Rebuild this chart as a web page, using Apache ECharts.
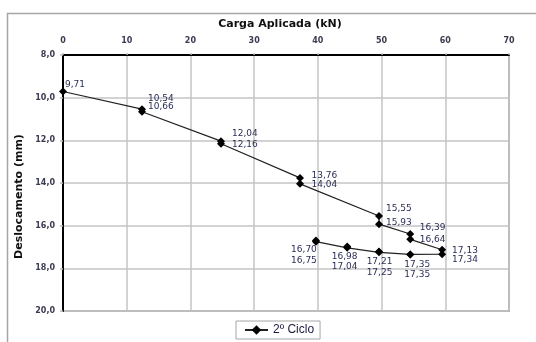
<!DOCTYPE html>
<html>
<head>
<meta charset="utf-8">
<script src="https://cdn.jsdelivr.net/npm/echarts@6/dist/echarts.min.js"></script>
<style>html,body{margin:0;padding:0;background:#fff;}#c{width:536px;height:342px;}</style>
</head>
<body>
<div id="c"></div>
<script>
// Data
var loads = [0, 12.4, 12.4, 24.8, 24.8, 37.2, 37.2, 49.6, 49.6, 54.5, 54.5, 59.5, 59.5, 54.5, 54.5, 49.6, 49.6, 44.6, 44.6, 39.7, 39.7];
var displacements = [9.71, 10.54, 10.66, 12.04, 12.16, 13.76, 14.04, 15.55, 15.93, 16.39, 16.64, 17.13, 17.34, 17.35, 17.35, 17.25, 17.21, 17.04, 16.98, 16.75, 16.70];
var xTicks = [0, 10, 20, 30, 40, 50, 60, 70];
var yTicks = [8, 10, 12, 14, 16, 18, 20];
var seriesName = '2º Ciclo';
var xTitle = 'Carga Aplicada (kN)';
var yTitle = 'Deslocamento (mm)';

// Label placement (styling, separate from data): [align, dx, dy]
var labelPlacement = [
  ['left', 2, -7], ['left', 6, -10.5], ['left', 6, -5], ['left', 11, -7.5], ['left', 11, 0.5],
  ['left', 11.5, -2], ['left', 11.5, 1], ['left', 7, -7], ['left', 7, -2], ['left', 9.5, -6],
  ['left', 9.5, 0], ['left', 10, 0.5], ['left', 10, 5],
  ['center', 7, 10], ['center', 7, 20.5], ['center', 0.5, 20.5], ['center', 0.5, 10.5],
  ['center', -2.5, 18.5], ['center', -2.5, 10], ['center', -12, 18.5], ['center', -12, 9.5]
];

function fmt(v, d) { return v.toFixed(d).replace('.', ','); }

var data = loads.map(function (x, i) {
  var p = labelPlacement[i];
  return {
    value: [x, displacements[i]],
    label: { align: p[0], offset: [p[1], p[2]] }
  };
});

var chart = echarts.init(document.getElementById('c'), null, { renderer: 'canvas' });
chart.setOption({
  backgroundColor: '#ffffff',
  animation: false,
  graphic: [{
    type: 'rect', silent: true, z: -10,
    shape: { x: 7.5, y: 13.5, width: 700, height: 500 },
    style: { fill: 'none', stroke: '#a6a6a6', lineWidth: 1.5 }
  }],
  grid: {
    left: 63, top: 55, right: 27, bottom: 31,
    show: true, borderColor: '#a8a8a8', borderWidth: 2, backgroundColor: 'transparent'
  },
  legend: {
    left: 236, top: 321,
    padding: [3, 6, 3, 8],
    borderColor: '#a6a6a6', borderWidth: 1,
    itemWidth: 23, itemHeight: 12,
    textStyle: { fontFamily: 'Liberation Sans', fontSize: 12, color: '#1a1a40' },
    data: [seriesName]
  },
  xAxis: {
    type: 'value', position: 'top',
    min: xTicks[0], max: xTicks[xTicks.length - 1], interval: 10,
    name: xTitle, nameLocation: 'middle', nameGap: 25,
    nameTextStyle: { fontFamily: 'DejaVu Sans', fontWeight: 'bold', fontSize: 11, color: '#111', padding: [0, 12, 0, 0] },
    axisLine: { show: true, lineStyle: { color: '#000', width: 2 } },
    axisTick: { show: true, length: 2, lineStyle: { color: '#bbb', width: 1.5 } },
    axisLabel: { margin: 10, fontFamily: 'DejaVu Sans', fontWeight: 'bold', fontSize: 8, color: '#3a3a50' },
    splitLine: { show: true, lineStyle: { color: '#c4c4c4', width: 1.5 } }
  },
  yAxis: {
    type: 'value', inverse: true,
    min: yTicks[0], max: yTicks[yTicks.length - 1], interval: 2,
    name: yTitle, nameLocation: 'middle', nameGap: 36, nameRotate: 90,
    nameTextStyle: { fontFamily: 'DejaVu Sans', fontWeight: 'bold', fontSize: 11, color: '#111', padding: [0, 27, 0, 0] },
    axisLine: { show: true, lineStyle: { color: '#000', width: 2 } },
    axisTick: { show: true, length: 3, lineStyle: { color: '#bbb', width: 1.5 } },
    axisLabel: { margin: 8, fontFamily: 'DejaVu Sans', fontWeight: 'bold', fontSize: 8, color: '#3a3a50',
      formatter: function (v) { return fmt(v, 1); } },
    splitLine: { show: true, lineStyle: { color: '#c4c4c4', width: 1.5 } }
  },
  series: [{
    name: seriesName,
    type: 'line',
    data: data,
    symbol: 'diamond', symbolSize: 8,
    itemStyle: { color: '#000' },
    lineStyle: { color: '#222', width: 1.2 },
    label: {
      show: true, position: 'inside', verticalAlign: 'middle',
      fontFamily: 'DejaVu Sans', fontSize: 9, color: '#2a2f55',
      formatter: function (p) { return fmt(p.value[1], 2); }
    }
  }]
});
</script>
</body>
</html>
